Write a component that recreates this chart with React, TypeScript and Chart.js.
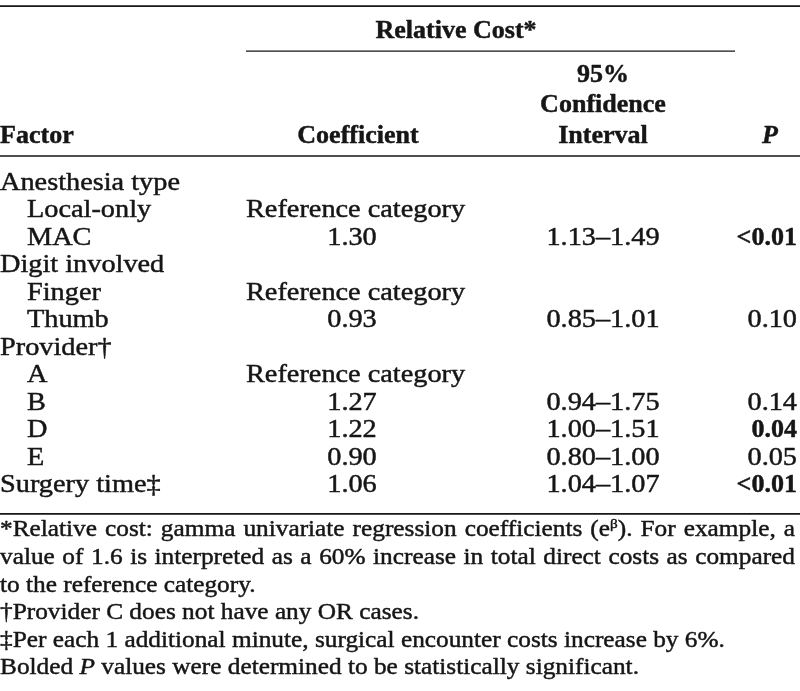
import React, { useEffect, useRef } from "react";
import { Chart, registerables } from "chart.js";

Chart.register(...registerables);

// ---------- DATA ----------
const factors = [
  "Anesthesia type",
  "Local-only",
  "MAC",
  "Digit involved",
  "Finger",
  "Thumb",
  "Provider†",
  "A",
  "B",
  "D",
  "E",
  "Surgery time‡",
];
const indentLevels = [0, 1, 1, 0, 1, 1, 0, 1, 1, 1, 1, 0];
const referenceRows = [false, true, false, false, true, false, false, true, false, false, false, false];
const coefficients: (number | null)[] = [null, null, 1.3, null, null, 0.93, null, null, 1.27, 1.22, 0.9, 1.06];
const ciLower: (number | null)[] = [null, null, 1.13, null, null, 0.85, null, null, 0.94, 1.0, 0.8, 1.04];
const ciUpper: (number | null)[] = [null, null, 1.49, null, null, 1.01, null, null, 1.75, 1.51, 1.0, 1.07];
const pValues = ["", "", "<0.01", "", "", "0.10", "", "", "0.14", "0.04", "0.05", "<0.01"];
const significant = [false, false, true, false, false, false, false, false, false, true, false, true];

const groupHeader = "Relative Cost*";
const referenceLabel = "Reference category";
const columnHeaders = ["Factor", "Coefficient", "95%\nConfidence\nInterval", "P"];

type Run = { t: string; b?: boolean; i?: boolean; sup?: boolean };
const footnoteLines: Run[][] = [
  [{ t: "*Relative cost: gamma univariate regression coefficients (e" }, { t: "β", sup: true }, { t: "). For example, a" }],
  [{ t: "value of 1.6 is interpreted as a 60% increase in total direct costs as compared" }],
  [{ t: "to the reference category." }],
  [{ t: "†Provider C does not have any OR cases." }],
  [{ t: "‡Per each 1 additional minute, surgical encounter costs increase by 6%." }],
  [{ t: "Bolded " }, { t: "P", i: true }, { t: " values were determined to be statistically significant." }],
];
const footnoteJustified = [true, true, false, false, false, false];

// ---------- LAYOUT / STYLE ----------
const FONT = '"Liberation Serif", "Times New Roman", serif';
const INK = "#161616";
const BODY_SIZE = 24.5;
const BODY_STRETCH = 1.155;
const BOLD_RATIO = 0.92;
const FOOT_SIZE = 22.5;
const FOOT_STRETCH = 1.125;
const INK_WEIGHT = 0.45;
const ROW_PITCH = 27.45;
const FIRST_BASELINE = 190;
const W = 800;
const H = 691;

// y positions expressed in row units (row i baseline = i)
const L = {
  topRule: -6.70,
  groupBaseline: -5.54,
  groupRule: -5.06,
  headerBaselines: [-3.93, -2.84, -1.71],
  headerRule: -1.24,
  bottomRule: 11.80,
  footStart: 12.62,
  footPitch: 1.005,
};
const COL = {
  factor: 0,
  indent: 27,
  coefLeft: 246,
  coefCenter: 352,
  coefHeader: 358,
  groupCenter: 456,
  groupRuleStart: 246,
  groupRuleEnd: 735,
  ciCenter: 603,
  pHeader: 770,
  pRight: 797,
  footJustify: 795,
};

function fontFor(r: Run, size: number) {
  const s = r.sup ? size * 0.6 : size;
  return `${r.i ? "italic " : ""}${r.b ? "bold " : ""}${s}px ${FONT}`;
}

function drawRuns(
  ctx: CanvasRenderingContext2D,
  runs: Run[],
  x: number,
  y: number,
  align: "left" | "center" | "right",
  size: number,
  stretch: number,
  justifyTo?: number
) {
  const tokens: (Run & { w: number; sx: number })[] = [];
  runs.forEach((r) => {
    r.t.split(/( )/).filter((s) => s !== "").forEach((s) => {
      const tok = { ...r, t: s } as Run;
      ctx.font = fontFor(tok, size);
      const sx = tok.b ? stretch * BOLD_RATIO : stretch;
      tokens.push({ ...tok, w: ctx.measureText(s).width * sx, sx });
    });
  });
  const total = tokens.reduce((a, t) => a + t.w, 0);
  const spaces = tokens.filter((t) => t.t === " ").length;
  const extra = justifyTo && spaces ? (justifyTo - total) / spaces : 0;
  let cx = align === "left" ? x : align === "center" ? x - total / 2 : x - total;
  ctx.textAlign = "left";
  ctx.textBaseline = "alphabetic";
  ctx.fillStyle = INK;
  ctx.strokeStyle = INK;
  tokens.forEach((t) => {
    if (t.t === " ") {
      cx += t.w + extra;
      return;
    }
    ctx.save();
    ctx.translate(cx, y - (t.sup ? size * 0.38 : 0));
    ctx.scale(t.sx, 1);
    ctx.font = fontFor(t, size);
    ctx.fillText(t.t, 0, 0);
    ctx.lineWidth = INK_WEIGHT;
    ctx.lineJoin = "round";
    ctx.strokeText(t.t, 0, 0);
    ctx.restore();
    cx += t.w;
  });
}

const tablePlugin = {
  id: "tablePlugin",
  beforeDraw(chart: any) {
    const ctx = chart.ctx as CanvasRenderingContext2D;
    ctx.save();
    ctx.fillStyle = "#ffffff";
    ctx.fillRect(0, 0, chart.width, chart.height);
    ctx.restore();
  },
  afterDraw(chart: any) {
    const ctx = chart.ctx as CanvasRenderingContext2D;
    const xs = chart.scales.x;
    const ys = chart.scales.y;
    const X = (v: number) => xs.getPixelForValue(v);
    const Y = (v: number) => ys.getPixelForValue(v);

    const rule = (v: number, x0: number, x1: number, lw: number) => {
      ctx.save();
      ctx.strokeStyle = INK;
      ctx.lineWidth = lw;
      ctx.beginPath();
      ctx.moveTo(X(x0), Y(v));
      ctx.lineTo(X(x1), Y(v));
      ctx.stroke();
      ctx.restore();
    };

    // rules
    rule(L.topRule, 0, W, 1.8);
    rule(L.groupRule, COL.groupRuleStart, COL.groupRuleEnd, 1.4);
    rule(L.headerRule, 0, W, 1.4);
    rule(L.bottomRule, 0, W, 1.6);

    // group header
    drawRuns(ctx, [{ t: groupHeader, b: true }], X(COL.groupCenter), Y(L.groupBaseline), "center", BODY_SIZE, BODY_STRETCH);

    // column headers
    const hb = L.headerBaselines;
    drawRuns(ctx, [{ t: columnHeaders[0], b: true }], X(COL.factor), Y(hb[2]), "left", BODY_SIZE, BODY_STRETCH);
    drawRuns(ctx, [{ t: columnHeaders[1], b: true }], X(COL.coefHeader), Y(hb[2]), "center", BODY_SIZE, BODY_STRETCH);
    const ciLines = columnHeaders[2].split("\n");
    ciLines.forEach((ln, k) => {
      drawRuns(ctx, [{ t: ln, b: true }], X(COL.ciCenter), Y(hb[hb.length - ciLines.length + k]), "center", BODY_SIZE, BODY_STRETCH);
    });
    drawRuns(ctx, [{ t: columnHeaders[3], b: true, i: true }], X(COL.pHeader), Y(hb[2]), "center", BODY_SIZE, BODY_STRETCH);

    // body rows
    factors.forEach((f, i) => {
      const yb = Y(i);
      drawRuns(ctx, [{ t: f }], X(indentLevels[i] ? COL.indent : COL.factor), yb, "left", BODY_SIZE, BODY_STRETCH);
      if (referenceRows[i]) {
        drawRuns(ctx, [{ t: referenceLabel }], X(COL.coefLeft), yb, "left", BODY_SIZE, BODY_STRETCH);
      }
      const c = coefficients[i];
      if (c !== null) {
        drawRuns(ctx, [{ t: c.toFixed(2) }], X(COL.coefCenter), yb, "center", BODY_SIZE, BODY_STRETCH);
      }
      const lo = ciLower[i];
      const hi = ciUpper[i];
      if (lo !== null && hi !== null) {
        drawRuns(ctx, [{ t: `${lo.toFixed(2)}–${hi.toFixed(2)}` }], X(COL.ciCenter), yb, "center", BODY_SIZE, BODY_STRETCH);
      }
      if (pValues[i]) {
        drawRuns(ctx, [{ t: pValues[i], b: significant[i] }], X(COL.pRight), yb, "right", BODY_SIZE, BODY_STRETCH);
      }
    });

    // footnotes
    footnoteLines.forEach((runs, k) => {
      drawRuns(
        ctx,
        runs,
        X(0),
        Y(L.footStart + k * L.footPitch),
        "left",
        FOOT_SIZE,
        FOOT_STRETCH,
        footnoteJustified[k] ? COL.footJustify : undefined
      );
    });
  },
};

export default function App() {
  const canvasRef = useRef<HTMLCanvasElement | null>(null);

  useEffect(() => {
    document.body.style.margin = "0";
    const canvas = canvasRef.current;
    if (!canvas) return;
    const yMin = -FIRST_BASELINE / ROW_PITCH;
    const yMax = (H - FIRST_BASELINE) / ROW_PITCH;
    const chart = new Chart(canvas, {
      type: "scatter",
      data: {
        datasets: [
          {
            label: "rows",
            data: factors.map((_, i) => ({ x: COL.factor, y: i })),
            pointRadius: 0,
            showLine: false,
          },
        ],
      },
      options: {
        animation: false,
        responsive: false,
        maintainAspectRatio: false,
        devicePixelRatio: 1,
        layout: { padding: 0 },
        events: [],
        plugins: { legend: { display: false }, tooltip: { enabled: false }, title: { display: false } },
        scales: {
          x: { type: "linear", min: 0, max: W, display: false },
          y: { type: "linear", min: yMin, max: yMax, reverse: true, display: false },
        },
      },
      plugins: [tablePlugin],
    });
    return () => chart.destroy();
  }, []);

  return (
    <div style={{ width: W, height: H, margin: 0 }}>
      <canvas ref={canvasRef} width={W} height={H} style={{ display: "block" }} />
    </div>
  );
}
